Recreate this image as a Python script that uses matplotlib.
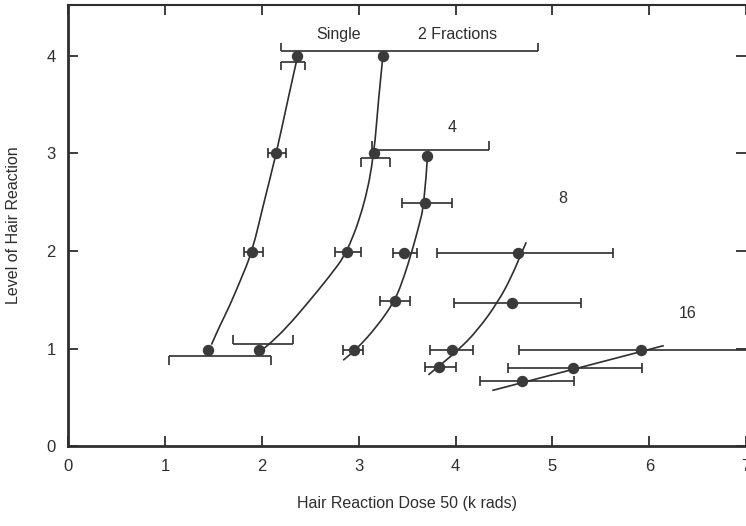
import matplotlib
matplotlib.use("Agg")
import matplotlib.pyplot as plt
from matplotlib.path import Path
from matplotlib.patches import PathPatch
import numpy as np

plt.rcParams['font.family'] = ['Liberation Sans', 'DejaVu Sans']

INK = '#2e2e2e'

# ---- data points (x = dose, y = level) ----
single_x = [1.44, 1.90, 2.15, 2.36]
single_y = [0.99, 1.99, 3.00, 4.00]
two_x = [1.97, 2.88, 3.16, 3.25]
two_y = [0.99, 1.99, 3.00, 4.00]
four_x = [2.95, 3.375, 3.47, 3.68, 3.71]
four_y = [0.99, 1.49, 1.98, 2.49, 2.97]
eight_x = [3.83, 3.96, 4.58, 4.65]
eight_y = [0.81, 0.985, 1.47, 1.98]
sixteen_x = [4.69, 5.21, 5.91]
sixteen_y = [0.67, 0.80, 0.98]

# ---- symmetric-cap error bars: y, low, high ----
err_y = [3.00, 1.99, 1.99, 2.49, 1.98, 1.49, 0.99, 1.98, 1.47, 0.985, 0.81, 0.98, 0.80, 0.67]
err_lo = [2.06, 1.82, 2.755, 3.45, 3.35, 3.22, 2.84, 3.81, 3.98, 3.74, 3.68, 4.66, 4.54, 4.25]
err_hi = [2.25, 2.01, 3.02, 3.96, 3.605, 3.53, 3.05, 5.63, 5.30, 4.18, 4.01, 7.40, 5.93, 5.22]
err_x = [2.15, 1.90, 2.88, 3.68, 3.47, 3.375, 2.95, 4.65, 4.58, 3.96, 3.83, 5.91, 5.21, 4.69]

# ---- one-sided bracket error bars: y, low, high, cap direction ----
br_y = [3.94, 0.92, 4.05, 2.95, 1.05, 3.04]
br_lo = [2.20, 1.045, 2.20, 3.02, 1.70, 3.14]
br_hi = [2.45, 2.10, 4.85, 3.32, 2.32, 4.35]
br_dir = [-1, -1, 1, -1, 1, 1]

# ---- fitted curves ----
single_cx = [1.48, 1.57, 1.665, 1.78, 1.90, 2.02, 2.15, 2.26, 2.37]
single_cy = [1.04, 1.24, 1.43, 1.70, 1.99, 2.49, 3.00, 3.51, 4.00]
two_cx = [1.98, 2.085, 2.26, 2.46, 2.70, 2.885, 3.065, 3.16, 3.20, 3.25]
two_cy = [0.97, 1.05, 1.22, 1.45, 1.74, 1.99, 2.49, 3.00, 3.51, 4.00]
four_cx = [2.84, 2.98, 3.185, 3.375, 3.47, 3.545, 3.615, 3.68, 3.71]
four_cy = [0.88, 0.995, 1.22, 1.49, 1.74, 1.98, 2.23, 2.49, 2.97]
eight_cx = [3.72, 4.03, 4.23, 4.44, 4.58, 4.68, 4.73]
eight_cy = [0.73, 0.985, 1.19, 1.48, 1.74, 1.98, 2.09]
sixteen_cx = [4.38, 6.15]
sixteen_cy = [0.57, 1.03]

# ---- labels ----
labels = ['Single', '2 Fractions', '4', '8', '16']
label_x = [2.79, 4.02, 3.96, 5.11, 6.40]
label_y = [4.22, 4.22, 3.27, 2.54, 1.36]

xticks = [0, 1, 2, 3, 4, 5, 6, 7]
yticks = [0, 1, 2, 3, 4]

fig = plt.figure(figsize=(7.46, 5.26), dpi=100)
ax = fig.add_axes([0.0912, 0.152, 0.909, 0.838])
ax.set_xlim(0, 7)
ax.set_ylim(0, 4.52)

lw = 1.2


def smooth_path(xs, ys):
    """Smooth line through the read curve points using quadratic Bezier segments."""
    pts = np.column_stack([xs, ys])
    if len(pts) < 3:
        return Path(pts, [Path.MOVETO] + [Path.LINETO] * (len(pts) - 1))
    verts = [pts[0], (pts[0] + pts[1]) / 2]
    codes = [Path.MOVETO, Path.LINETO]
    for i in range(1, len(pts) - 1):
        end = (pts[i] + pts[i + 1]) / 2 if i < len(pts) - 2 else pts[i + 1]
        verts += [pts[i], end]
        codes += [Path.CURVE3, Path.CURVE3]
    return Path(np.array(verts), codes)


for cx, cy in [(single_cx, single_cy), (two_cx, two_cy), (four_cx, four_cy),
               (eight_cx, eight_cy), (sixteen_cx, sixteen_cy)]:
    ax.add_patch(PathPatch(smooth_path(cx, cy), fill=False, edgecolor=INK, lw=lw, zorder=2))

ex = np.array(err_x)
ax.errorbar(err_x, err_y, xerr=[ex - np.array(err_lo), np.array(err_hi) - ex],
            fmt='none', ecolor=INK, elinewidth=lw, capsize=3.6, capthick=lw, zorder=2)

cap = 0.085
for y, lo, hi, d in zip(br_y, br_lo, br_hi, br_dir):
    ax.hlines(y, lo, hi, color=INK, lw=lw, zorder=2)
    ax.vlines([lo, hi], y, y + d * cap, color=INK, lw=lw, zorder=2)

for xs, ys in [(single_x, single_y), (two_x, two_y), (four_x, four_y),
               (eight_x, eight_y), (sixteen_x, sixteen_y)]:
    ax.plot(xs, ys, 'o', color='#3a3a3a', ms=7.2, mec='#3a3a3a', zorder=3)

for t, x, y in zip(labels, label_x, label_y):
    ax.text(x, y, t, ha='center', va='center', fontsize=11.5, color=INK)

ax.set_xticks(xticks)
ax.set_yticks(yticks)
ax.tick_params(axis='both', direction='in', length=7, width=1.3, colors=INK,
               labelsize=12, labelcolor=INK, top=True, right=True, pad=9)
ax.tick_params(axis='x', top=True, labeltop=False)
ax.tick_params(axis='y', right=True, labelright=False)

for s in ['left', 'bottom']:
    ax.spines[s].set_linewidth(2.0)
    ax.spines[s].set_color(INK)
ax.spines['top'].set_linewidth(1.5)
ax.spines['top'].set_color(INK)
ax.spines['right'].set_visible(False)

ax.set_xlabel('Hair Reaction Dose 50 (k rads)', fontsize=11.5, color=INK, labelpad=16)
ax.set_ylabel('Level of Hair Reaction', fontsize=11.5, color=INK, labelpad=18)

fig.savefig('out.png', dpi=100)
